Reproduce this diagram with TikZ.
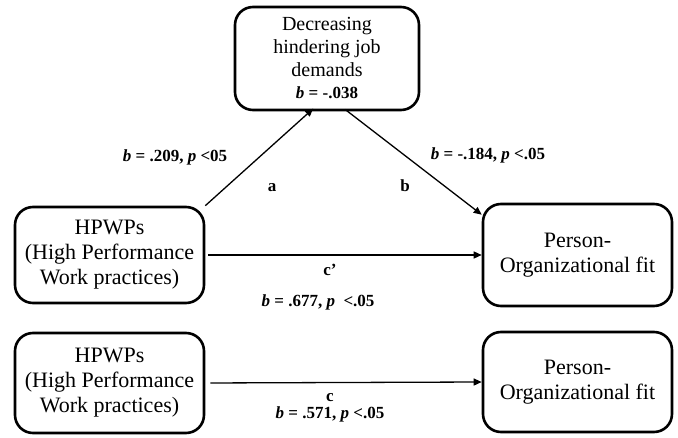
\documentclass[tikz,border=0pt]{standalone}
\usepackage{fontspec}
\setmainfont{Liberation Serif}
\usetikzlibrary{arrows.meta,calc}
\begin{document}
\begin{tikzpicture}[x=1pt,y=-1pt,
  box/.style={draw, line width=2.6pt, rounded corners=18pt, align=center, inner sep=0pt,
    font=\fontsize{22}{25}\selectfont},
  arr/.style={-{Triangle[length=8pt,width=7pt]}, line width=1.3pt},
  lbl/.style={font=\fontsize{17}{20}\selectfont\bfseries, inner sep=0pt}]
\useasboundingbox (0,0) rectangle (678,438);
\node[box, minimum width=184pt, minimum height=103pt, font=\fontsize{20}{23}\selectfont] (T) at (327,58.5)
  {Decreasing\\hindering job\\demands\\[-1pt]{\fontsize{17}{20}\selectfont\bfseries\itshape b\upshape{} = -.038}};
\node[box, minimum width=189pt, minimum height=96pt] (L) at (109.5,255)
  {HPWPs\\(High Performance\\Work practices)};
\node[box, minimum width=189pt, minimum height=102pt] (R) at (577.5,255)
  {Person-\\Organizational fit};
\node[box, minimum width=189pt, minimum height=100pt] (BL) at (109.5,383)
  {HPWPs\\(High Performance\\Work practices)};
\node[box, minimum width=189pt, minimum height=100pt] (BR) at (577.5,382)
  {Person-\\Organizational fit};
\coordinate (Ta) at ($(T.south west)!0.41!(T.south east)$);
\coordinate (Tb) at ($(T.south west)!0.61!(T.south east)$);
\draw[arr, shorten >=-4pt] (L.north east) -- (Ta);
\draw[arr, shorten <=-3pt] (Tb) -- ([yshift=-12pt]R.north west);
\draw[arr, shorten <=3pt] (L.east) -- (R.west);
\draw[arr, shorten <=5pt] (BL.east) -- (BR.west);
\node[lbl] (la1) at (175,157) {\textit{b} = .209, \textit{p} <05};
\node[lbl] (la2) at (272,188) {a};
\node[lbl] (lb1) at (488,155) {\textit{b} = -.184, \textit{p} <.05};
\node[lbl] (lb2) at (405,186) {b};
\node[lbl] (lc1) at (330,270) {c’};
\node[lbl] (lc2) at (318,302) {\textit{b} = .677, \textit{p}\ \ <.05};
\node[lbl] (ld1) at (330,398) {c};
\node[lbl] (ld2) at (330,414) {\textit{b} = .571, \textit{p} <.05};
\end{tikzpicture}
\end{document}
